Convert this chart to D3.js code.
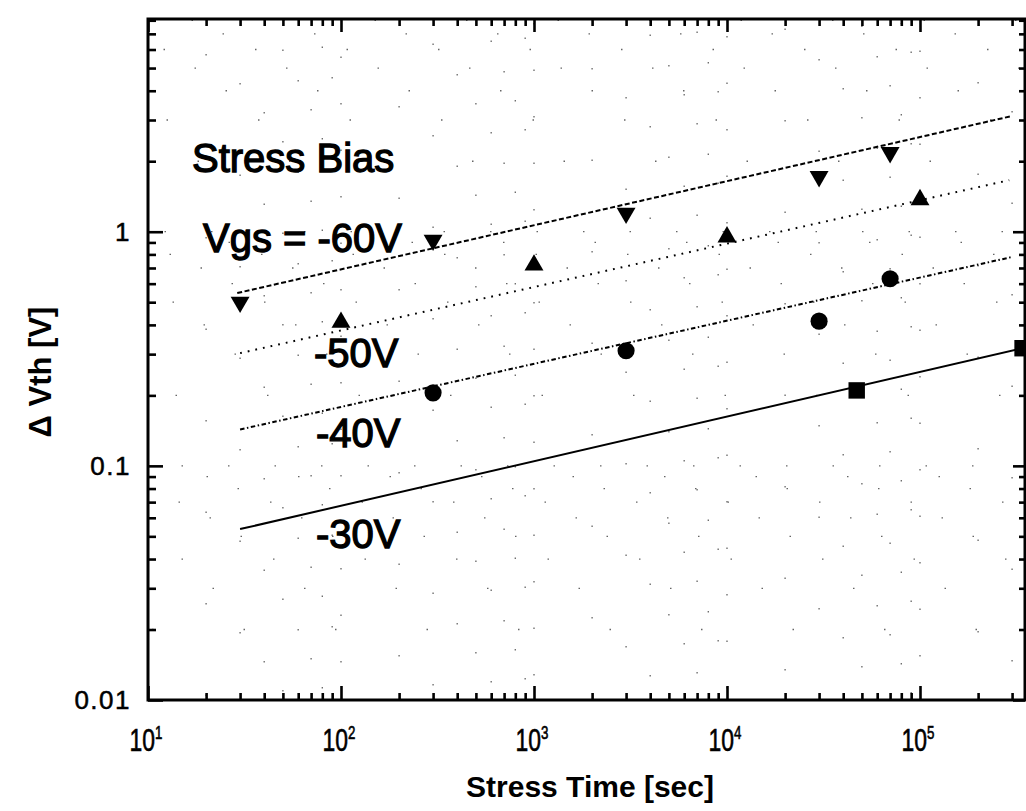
<!DOCTYPE html>
<html>
<head>
<meta charset="utf-8">
<script src="https://cdn.jsdelivr.net/npm/d3@7"></script>
<style>
  html, body { margin: 0; padding: 0; background: #fff; }
  svg { display: block; }
  text { font-family: "Liberation Sans", Arial, Helvetica, sans-serif; fill: #000; }
</style>
</head>
<body>
<svg id="chart" width="1026" height="811"></svg>
<script>
// ---------------- data ----------------
const xDomain = [10, 3.5e5];
const yDomain = [0.01, 8.1];
const xMajorTicks = [10, 100, 1000, 10000, 100000];
const xTickExponents = ["1", "2", "3", "4", "5"];
const yMajorTicks = [0.01, 0.1, 1];
const yTickLabels = ["0.01", "0.1", "1"];

const timeV60 = [30, 300, 3000, 30000, 70000];
const dvthV60 = [0.50, 0.92, 1.20, 1.72, 2.18];
const timeV50 = [100, 1000, 10000, 100000];
const dvthV50 = [0.41, 0.72, 0.95, 1.37];
const timeV40 = [300, 3000, 30000, 70000];
const dvthV40 = [0.205, 0.31, 0.415, 0.63];
const timeV30 = [47000, 340000];
const dvthV30 = [0.21, 0.318];

const fitTimeV60 = [29, 300000];
const fitDvthV60 = [0.547, 3.12];
const fitTimeV50 = [30, 290000];
const fitDvthV50 = [0.303, 1.66];
const fitTimeV40 = [30, 300000];
const fitDvthV40 = [0.143, 0.78];
const fitTimeV30 = [30, 340000];
const fitDvthV30 = [0.0537, 0.318];

const seriesLabels = ["Vgs = -60V", "-50V", "-40V", "-30V"];
const titleText = "Stress Bias";
const xTitle = "Stress Time [sec]";
const yTitle = "\u0394 Vth [V]";

// ---------------- layout ----------------
const svg = d3.select("#chart");
const mLeft = 148, mRight = 1025, mTop = 19, mBottom = 700;
const x = d3.scaleLog().domain(xDomain).range([mLeft, mRight]);
const y = d3.scaleLog().domain(yDomain).range([mBottom, mTop]);

// minor tick values
const xMinor = [];
for (let d = 10; d < xDomain[1]; d *= 10)
  for (let k = 2; k <= 9; k++) if (d * k < xDomain[1]) xMinor.push(d * k);
const yMinor = [];
for (let d = 0.01; d < yDomain[1]; d *= 10)
  for (let k = 2; k <= 9; k++) if (d * k < yDomain[1]) yMinor.push(+(d * k).toPrecision(3));

// very sparse dotted grid (scan-like)
const grid = svg.append("g").attr("stroke", "#000").attr("stroke-width", 1.3)
  .attr("opacity", 0.6);
xMajorTicks.forEach((v, i) => {
  grid.append("line").attr("x1", x(v)).attr("x2", x(v)).attr("y1", mBottom - 4).attr("y2", mTop + 4)
    .attr("stroke-dasharray", "1.5,45").attr("stroke-dashoffset", (i * 13) % 45);
});
xMinor.forEach((v, i) => {
  grid.append("line").attr("x1", x(v)).attr("x2", x(v)).attr("y1", mBottom - 4).attr("y2", mTop + 4)
    .attr("stroke-dasharray", "1.5,90").attr("stroke-dashoffset", (i * 29) % 90);
});
yMajorTicks.forEach((v, i) => {
  grid.append("line").attr("y1", y(v)).attr("y2", y(v)).attr("x1", mLeft + 4).attr("x2", mRight - 4)
    .attr("stroke-dasharray", "1.5,45").attr("stroke-dashoffset", (i * 17) % 45);
});
yMinor.forEach((v, i) => {
  grid.append("line").attr("y1", y(v)).attr("y2", y(v)).attr("x1", mLeft + 4).attr("x2", mRight - 4)
    .attr("stroke-dasharray", "1.5,90").attr("stroke-dashoffset", (i * 31) % 90);
});

// axes using d3 axis generators (ticks inward)
function drawAxis(gen, tx, ty) {
  const g = svg.append("g").attr("transform", `translate(${tx},${ty})`).call(gen);
  g.selectAll("text").remove();
  g.select(".domain").remove();
  g.selectAll("line").attr("stroke", "#000").attr("stroke-width", 2.6);
  return g;
}
drawAxis(d3.axisBottom(x).tickValues(xMajorTicks).tickSize(-14), 0, mBottom);
drawAxis(d3.axisBottom(x).tickValues(xMinor).tickSize(-7), 0, mBottom);
drawAxis(d3.axisTop(x).tickValues(xMajorTicks).tickSize(-13), 0, mTop);
drawAxis(d3.axisTop(x).tickValues(xMinor).tickSize(-7), 0, mTop);
drawAxis(d3.axisLeft(y).tickValues(yMajorTicks).tickSize(-15), mLeft, 0);
drawAxis(d3.axisLeft(y).tickValues(yMinor).tickSize(-8), mLeft, 0);
drawAxis(d3.axisRight(y).tickValues(yMajorTicks).tickSize(-12), mRight, 0);
drawAxis(d3.axisRight(y).tickValues(yMinor).tickSize(-6), mRight, 0);

// frame
svg.append("rect").attr("x", mLeft).attr("y", mTop).attr("width", mRight - mLeft).attr("height", mBottom - mTop)
  .attr("fill", "none").attr("stroke", "#000").attr("stroke-width", 3);

// x tick labels (condensed 10^n)
xMajorTicks.forEach((v, i) => {
  const g = svg.append("g").attr("transform", `translate(${x(v) - 2},751) scale(0.74,1)`);
  const t = g.append("text").attr("text-anchor", "middle").attr("font-size", 31)
    .attr("stroke", "#000").attr("stroke-width", 0.6);
  t.append("tspan").text("10");
  t.append("tspan").attr("font-size", 18).attr("dy", -12).text(xTickExponents[i]);
});

// y tick labels
yMajorTicks.forEach((v, i) => {
  svg.append("text").attr("x", 131).attr("y", y(v)).attr("dy", "0.36em")
    .attr("text-anchor", "end").attr("font-size", 26).attr("letter-spacing", 1.5)
    .attr("stroke", "#000").attr("stroke-width", 0.5)
    .text(yTickLabels[i]);
});

// axis titles
svg.append("text").attr("x", 590).attr("y", 797).attr("text-anchor", "middle")
  .attr("font-size", 30).attr("font-weight", "bold").text(xTitle);
svg.append("text").attr("transform", "translate(51,372) rotate(-90)").attr("text-anchor", "middle")
  .attr("font-size", 31).attr("font-weight", "bold").text(yTitle);

// fit lines
const line = d3.line().x(d => x(d[0])).y(d => y(d[1]));
const fits = [
  [fitTimeV60, fitDvthV60, "5,2.5"],
  [fitTimeV50, fitDvthV50, "1.8,6"],
  [fitTimeV40, fitDvthV40, "4.5,2.5,1.5,2.5"],
  [fitTimeV30, fitDvthV30, null]
];
fits.forEach(([tx, ty, dash]) => {
  const p = svg.append("path").datum(d3.zip(tx, ty)).attr("d", line)
    .attr("fill", "none").attr("stroke", "#000").attr("stroke-width", 2);
  if (dash) p.attr("stroke-dasharray", dash);
});

// markers
const series = [
  [timeV60, dvthV60, d3.symbolTriangle, 155, 180],
  [timeV50, dvthV50, d3.symbolTriangle, 155, 0],
  [timeV40, dvthV40, d3.symbolCircle, 230, 0],
  [timeV30, dvthV30, d3.symbolSquare, 270, 0]
];
series.forEach(([tx, ty, sym, size, rot]) => {
  const sg = d3.symbol().type(sym).size(size);
  svg.append("g").selectAll("path").data(d3.zip(tx, ty)).join("path")
    .attr("d", sg)
    .attr("transform", d => `translate(${x(d[0])},${y(d[1])}) rotate(${rot})`)
    .attr("fill", "#000");
});

// annotations
svg.append("text").attr("x", 192).attr("y", 172).attr("font-size", 40)
  .attr("stroke", "#000").attr("stroke-width", 1.3).text(titleText);
const labelPos = [[203, 252], [314, 367], [316, 447], [316, 548]];
seriesLabels.forEach((s, i) => {
  svg.append("text").attr("x", labelPos[i][0]).attr("y", labelPos[i][1]).attr("font-size", 40)
    .attr("stroke", "#000").attr("stroke-width", 1.3).text(s);
});
</script>
</body>
</html>
